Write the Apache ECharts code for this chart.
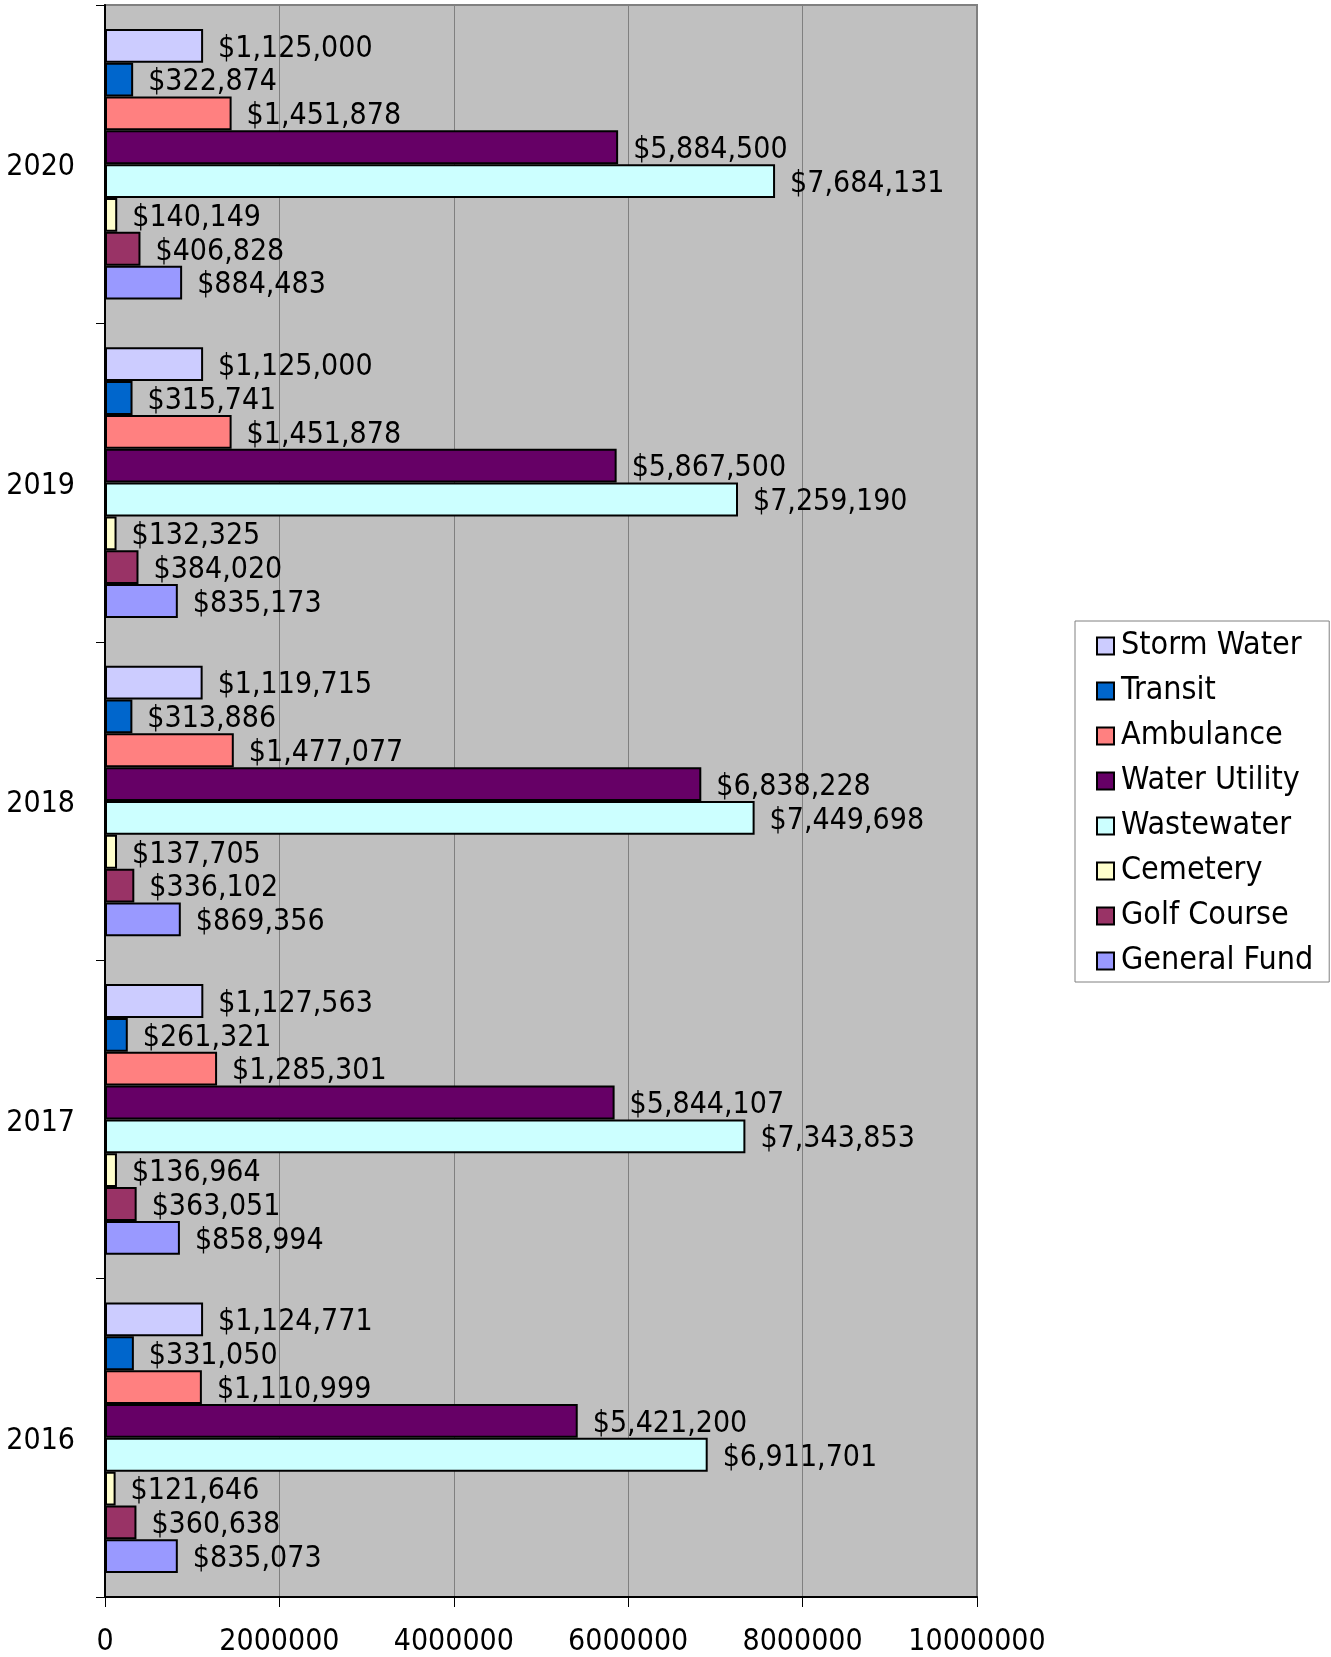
<!DOCTYPE html>
<html>
<head>
<meta charset="utf-8">
<script src="https://cdn.jsdelivr.net/npm/echarts@6/dist/echarts.min.js"></script>
<style>
  html, body { margin: 0; padding: 0; background: #fff; }
  #chart { width: 1331px; height: 1657px; }
</style>
</head>
<body>
<div id="chart"></div>
<script>
// Fiscal years, top to bottom
const years = ['2020', '2019', '2018', '2017', '2016'];

// Fund names in legend order (also top-to-bottom order within each year)
const funds = ['Storm Water', 'Transit', 'Ambulance', 'Water Utility', 'Wastewater', 'Cemetery', 'Golf Course', 'General Fund'];

// Amounts per fund, aligned with years
const stormWater   = [1125000, 1125000, 1119715, 1127563, 1124771];
const transit      = [322874, 315741, 313886, 261321, 331050];
const ambulance    = [1451878, 1451878, 1477077, 1285301, 1110999];
const waterUtility = [5884500, 5867500, 6838228, 5844107, 5421200];
const wastewater   = [7684131, 7259190, 7449698, 7343853, 6911701];
const cemetery     = [140149, 132325, 137705, 136964, 121646];
const golfCourse   = [406828, 384020, 336102, 363051, 360638];
const generalFund  = [884483, 835173, 869356, 858994, 835073];

const fundValues = [stormWater, transit, ambulance, waterUtility, wastewater, cemetery, golfCourse, generalFund];
const fundColors = ['#CCCCFF', '#0066CC', '#FF8080', '#660066', '#CCFFFF', '#FFFFCC', '#993366', '#9999FF'];

// Value axis ticks
const axisMin = 0, axisMax = 10000000, axisStep = 2000000;

const FONT = '"DejaVu Sans Condensed", "DejaVu Sans", sans-serif';
const money = v => '$' + v.toLocaleString('en-US');

const chart = echarts.init(document.getElementById('chart'), null, { renderer: 'canvas' });

const series = funds.map((name, i) => ({
  name: name,
  type: 'bar',
  data: fundValues[i],
  barGap: '0%',
  barCategoryGap: '15%',
  itemStyle: { color: fundColors[i], borderColor: '#000', borderWidth: 2 },
  label: {
    show: true,
    position: 'right',
    distance: 15,
    offset: [0, 3],
    color: '#000',
    fontFamily: FONT,
    fontSize: 30,
    formatter: p => money(p.value)
  }
}));

chart.setOption({
  animation: false,
  backgroundColor: '#ffffff',
  grid: {
    left: 105, top: 5, right: 354, bottom: 59,
    show: true, backgroundColor: '#C0C0C0', borderColor: '#808080', borderWidth: 2
  },
  legend: {
    orient: 'vertical',
    left: 1075, top: 621,
    icon: 'rect',
    itemWidth: 17, itemHeight: 17,
    itemGap: 13,
    padding: [9, 16, 5, 21],
    backgroundColor: '#ffffff',
    borderColor: '#808080', borderWidth: 1, borderRadius: 0,
    itemStyle: { borderColor: '#000', borderWidth: 2 },
    textStyle: { color: '#000', fontFamily: FONT, fontSize: 32, padding: [4, 0, 0, 2] },
    data: funds
  },
  xAxis: {
    type: 'value',
    min: axisMin, max: axisMax, interval: axisStep,
    axisLine: { show: true, lineStyle: { color: '#000', width: 2 } },
    axisTick: { show: true, length: 10, lineStyle: { color: '#000' } },
    axisLabel: { color: '#000', fontFamily: FONT, fontSize: 30, margin: 30, formatter: v => String(v) },
    splitLine: { show: true, lineStyle: { color: '#808080', width: 1 } }
  },
  yAxis: {
    type: 'category',
    data: years,
    inverse: true,
    axisLine: { show: true, lineStyle: { color: '#000', width: 2 } },
    axisTick: { show: true, length: 9, lineStyle: { color: '#000' } },
    axisLabel: {
      color: '#000', fontFamily: FONT, fontSize: 30, margin: 30,
      formatter: v => '{yr|' + v + '}',
      rich: { yr: { color: '#000', fontFamily: FONT, fontSize: 30, padding: [7, 0, 0, 0] } }
    },
    splitLine: { show: false }
  },
  series: series
});
</script>
</body>
</html>
